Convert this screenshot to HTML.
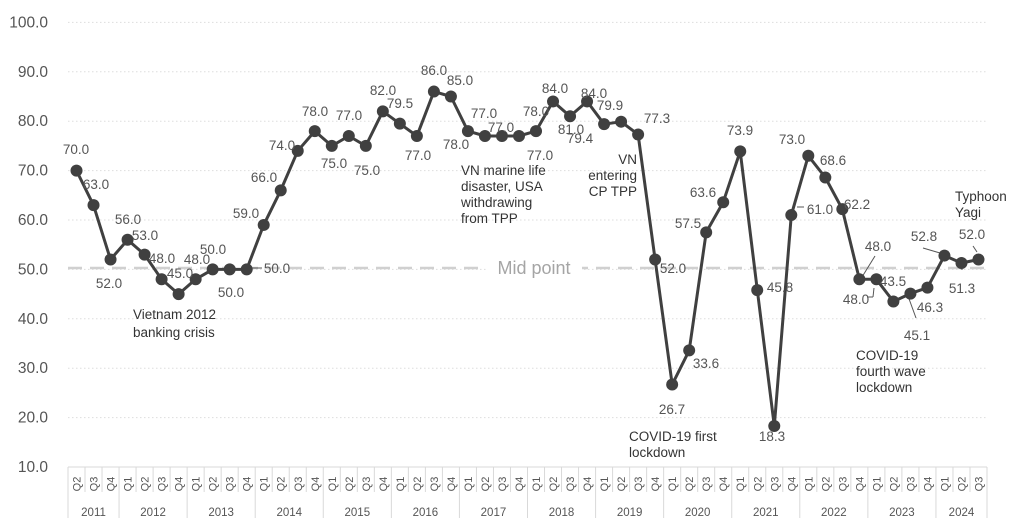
<!DOCTYPE html>
<html><head><meta charset="utf-8"><style>
html,body{margin:0;padding:0;background:#fff;}
svg{display:block;font-family:"Liberation Sans",sans-serif;}
</style></head><body>
<svg id="c" width="1024" height="532" viewBox="0 0 1024 532" xmlns="http://www.w3.org/2000/svg"></svg>
<script>
const s=document.getElementById('c');
let h='';
const X0=68,X1=987,W=(X1-X0)/54;
const y=v=>467-(v-10)*4.94;
const x=i=>X0+W*(i+0.5);
for(let v=20;v<=100;v+=10){h+=`<line x1="68" x2="987" y1="${y(v)}" y2="${y(v)}" stroke="#ddd" stroke-dasharray="1.5 2.5"/>`;}
for(let v=10;v<=100;v+=10){h+=`<text x="48" y="${y(v)+5}" text-anchor="end" font-size="15.5" fill="#555">${v.toFixed(1)}</text>`;}
h+=`<line x1="68" x2="987" y1="467" y2="467" stroke="#d9d9d9"/>`;
const qs=['Q2','Q3','Q4'];for(let yr=0;yr<12;yr++)qs.push('Q1','Q2','Q3','Q4');qs.push('Q1','Q2','Q3');
for(let i=0;i<=54;i++){const xx=X0+W*i;const yb=(i-3)%4==0||i==0||i==54;h+=`<line x1="${xx}" x2="${xx}" y1="467" y2="${yb?518:492}" stroke="#d9d9d9"/>`;}
qs.forEach((q,i)=>{h+=`<text transform="translate(${x(i)+4},484) rotate(-90)" text-anchor="middle" font-size="11" fill="#555">${q}</text>`;});
const yrs=[[0,3,2011]];for(let k=0;k<12;k++)yrs.push([3+4*k,7+4*k,2012+k]);yrs.push([51,54,2024]);
yrs.forEach(([a,b,t])=>{h+=`<text x="${X0+W*(a+b)/2}" y="516" text-anchor="middle" font-size="11.5" fill="#555">${t}</text>`;});
h+=`<line x1="68" x2="987" y1="268" y2="268" stroke="#d0d0d0" stroke-width="2.5" stroke-dasharray="14 8"/>`;
h+=`<rect x="486" y="257" width="96" height="22" fill="#fff"/>`;
h+=`<text x="534" y="274" text-anchor="middle" font-size="18" fill="#a5a5a5">Mid point</text>`;
const d=[70,63,52,56,53,48,45,48,50,50,50,59,66,74,78,75,77,75,82,79.5,77,86,85,78,77,77,77,78,84,81,84,79.4,79.9,77.3,52,26.7,33.6,57.5,63.6,73.9,45.8,18.3,61,73,68.6,62.2,48,48,43.5,45.1,46.3,52.8,51.3,52];
const L=[[262,268,250,268],[797,207,804,207],[875,256,862,277],[867,297,873,297],[873,297,874,288],[908,296,916,318],[923,248,940,253],[962,260,962,270],[973,246,977,252]];
L.forEach(l=>h+=`<line x1="${l[0]}" y1="${l[1]}" x2="${l[2]}" y2="${l[3]}" stroke="#555"/>`);
h+=`<polyline fill="none" stroke="#404040" stroke-width="3" stroke-linejoin="round" points="${d.map((v,i)=>x(i).toFixed(1)+','+y(v).toFixed(1)).join(' ')}"/>`;
d.forEach((v,i)=>h+=`<circle cx="${x(i)}" cy="${y(v)}" r="6" fill="#404040"/>`);
const lab=[['70.0',76,149],['63.0',96,184],['52.0',109,283],['56.0',128,219],['53.0',145,235],['48.0',162,258],['45.0',180,273],['48.0',197,259],['50.0',213,249],['50.0',231,292],['50.0',277,268],['59.0',246,213],['66.0',264,177],['74.0',282,145],['78.0',315,111],['75.0',334,163],['77.0',349,115],['75.0',367,170],['82.0',383,90],['79.5',400,103],['77.0',418,155],['86.0',434,70],['85.0',460,80],['78.0',456,144],['77.0',484,113],['77.0',501,127],['77.0',540,155],['78.0',536,111],['84.0',555,88],['81.0',571,129],['84.0',594,93],['79.4',580,138],['79.9',610,105],['77.3',657,118],['52.0',673,268],['26.7',672,409],['33.6',706,363],['57.5',688,223],['63.6',703,192],['73.9',740,130],['45.8',780,287],['61.0',820,209],['18.3',772,436],['73.0',792,139],['68.6',833,160],['62.2',857,204],['48.0',878,246],['48.0',856,299],['43.5',893,281],['45.1',917,335],['46.3',930,307],['52.8',924,236],['51.3',962,288],['52.0',972,234]];
lab.forEach(([t,a,b])=>h+=`<text x="${a}" y="${b+5}" text-anchor="middle" font-size="13.5" fill="#555">${t}</text>`);
const ann=[[133,[314,332],'start',['Vietnam 2012','banking crisis']],[461,[170,186,202,218],'start',['VN marine life','disaster, USA','withdrawing','from TPP']],[637,[159,175,191],'end',['VN','entering','CP TPP']],[629,[436,452],'start',['COVID-19 first','lockdown']],[856,[355,371,387],'start',['COVID-19','fourth wave','lockdown']],[955,[196,212],'start',['Typhoon','Yagi']]];
ann.forEach(([a,ys,an,ls])=>ls.forEach((t,k)=>h+=`<text x="${a}" y="${ys[k]+5}" text-anchor="${an}" font-size="13.5" fill="#333">${t}</text>`));
s.innerHTML=h;
</script>
</body></html>
